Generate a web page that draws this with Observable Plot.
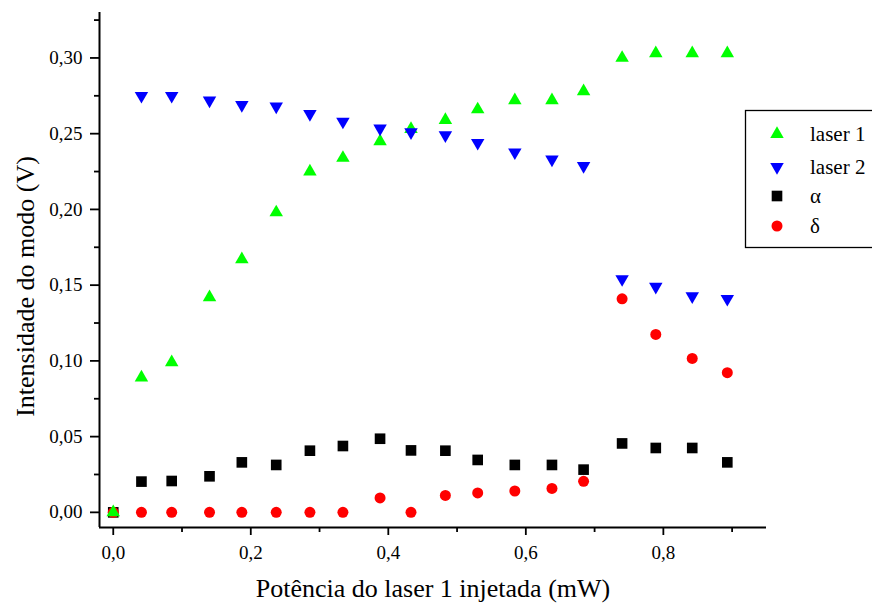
<!DOCTYPE html>
<html>
<head>
<meta charset="utf-8">
<script src="https://cdn.jsdelivr.net/npm/d3@7"></script>
<script src="https://cdn.jsdelivr.net/npm/@observablehq/plot@0.6"></script>
<style>
  html, body { margin: 0; padding: 0; background: #fff; overflow: hidden; }
  #chart svg, #chart svg text { font-family: "Liberation Serif", "DejaVu Serif", serif !important; }
</style>
</head>
<body>
<div id="chart"></div>
<script>
// ---- data ----
const power  = [0, 0.041, 0.085, 0.140, 0.187, 0.237, 0.286, 0.334, 0.388, 0.433, 0.483, 0.530, 0.584, 0.638, 0.684, 0.740, 0.789, 0.842, 0.893];
const laser1 = [0.000, 0.089, 0.099, 0.142, 0.167, 0.198, 0.225, 0.234, 0.245, 0.253, 0.259, 0.266, 0.272, 0.272, 0.278, 0.300, 0.303, 0.303, 0.303];
const laser2 = [null, 0.275, 0.275, 0.272, 0.269, 0.268, 0.263, 0.258, 0.2535, 0.251, 0.249, 0.244, 0.2377, 0.233, 0.2287, 0.154, 0.149, 0.1427, 0.141];
const alpha  = [0.000, 0.0203, 0.0207, 0.0238, 0.033, 0.0313, 0.0407, 0.0438, 0.0486, 0.0409, 0.0407, 0.0346, 0.0313, 0.0313, 0.0282, 0.0455, 0.0425, 0.0425, 0.033];
const delta  = [0.000, 0, 0, 0, 0, 0, 0, 0, 0.0095, 0, 0.0112, 0.0128, 0.0141, 0.0158, 0.0205, 0.141, 0.1175, 0.1016, 0.0922];
const seriesNames = ["laser 1", "laser 2", "α", "δ"];
const yTicks = [0, 0.05, 0.10, 0.15, 0.20, 0.25, 0.30];
const yMinorTicks = [0.025, 0.075, 0.125, 0.175, 0.225, 0.275, 0.325];
const xTicks = [0, 0.2, 0.4, 0.6, 0.8];
const xMinorTicks = [0.1, 0.3, 0.5, 0.7, 0.9];
const xLabel = "Potência do laser 1 injetada (mW)";
const yLabel = "Intensidade do modo (V)";

// ---- styling ----
const FONT = "Liberation Serif, DejaVu Serif, serif";
const colors = ["#00ff00", "#0000ff", "#000000", "#ff0000"];
const radii = [5, 5, 6, 5.5];

const symbolTriangleDown = {
  draw(context, size) {
    const s3 = Math.sqrt(3);
    const y = -Math.sqrt(size / (s3 * 3));
    context.moveTo(0, -y * 2);
    context.lineTo(-s3 * y, y);
    context.lineTo(s3 * y, y);
    context.closePath();
  }
};
const symbols = [d3.symbolTriangle, symbolTriangleDown, d3.symbolSquare, d3.symbolCircle];

const rows = (vals) => power.map((x, i) => ({x, y: vals[i]})).filter(d => d.y != null);
const fmtY = d => d.toFixed(2).replace(".", ",");
const fmtX = d => d.toFixed(1).replace(".", ",");

const dotMark = (vals, k) => Plot.dot(rows(vals), {
  x: "x", y: "y", symbol: symbols[k], r: radii[k], fill: colors[k], stroke: "none"
});

const chart = Plot.plot({
  width: 872,
  height: 606,
  marginLeft: 99,
  marginTop: 12,
  marginRight: 106,
  marginBottom: 79,
  style: {fontFamily: FONT, fontSize: "19px", background: "#fff", color: "#000"},
  x: {domain: [-0.02, 0.95]},
  y: {domain: [-0.01, 0.33]},
  marks: [
    Plot.axisY({ticks: yMinorTicks, tickSize: 5, text: null, label: null, strokeWidth: 1.8}),
    Plot.axisY({ticks: yTicks, tickSize: 9, tickPadding: 8, tickFormat: fmtY, label: null, strokeWidth: 1.8, fontSize: 19}),
    Plot.axisX({ticks: xMinorTicks, tickSize: 5, text: null, label: null, strokeWidth: 1.8}),
    Plot.axisX({ticks: xTicks, tickSize: 8, tickPadding: 10, tickFormat: fmtX, label: null, strokeWidth: 1.8, fontSize: 19}),
    Plot.ruleX([-0.02], {strokeWidth: 2}),
    Plot.ruleY([-0.01], {strokeWidth: 2}),
    dotMark(alpha, 2),
    dotMark(delta, 3),
    dotMark(laser1, 0),
    dotMark(laser2, 1),
    Plot.text([xLabel], {text: d => d, frameAnchor: "bottom", textAnchor: "middle", lineAnchor: "middle", dy: 61, fontSize: 26}),
    Plot.text([yLabel], {text: d => d, frameAnchor: "left", textAnchor: "middle", lineAnchor: "middle", rotate: -90, dx: -74, dy: 16.5, fontSize: 26})
  ]
});

// ---- legend box inside the svg ----
const svg = d3.select(chart);
const lg = svg.append("g").attr("font-family", FONT).attr("font-size", 21).attr("text-anchor", "start");
lg.append("rect")
  .attr("x", 745.5).attr("y", 110.5).attr("width", 140).attr("height", 137)
  .attr("fill", "#fff").attr("stroke", "#000").attr("stroke-width", 1.3);
const rowY = [134, 167, 196, 226];
seriesNames.forEach((name, k) => {
  lg.append("path")
    .attr("transform", `translate(777,${rowY[k]})`)
    .attr("d", d3.symbol(symbols[k], radii[k] * radii[k] * Math.PI)())
    .attr("fill", colors[k]);
  lg.append("text")
    .attr("x", 810).attr("y", rowY[k]).attr("dy", "0.35em")
    .attr("fill", "#000")
    .text(name);
});

document.getElementById("chart").appendChild(chart);
</script>
</body>
</html>
